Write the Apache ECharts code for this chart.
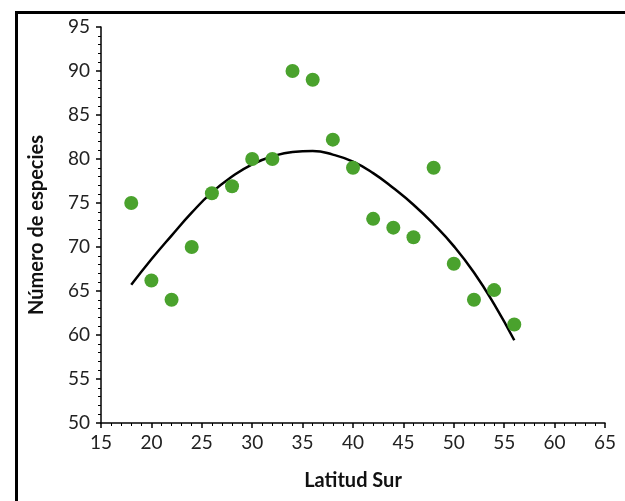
<!DOCTYPE html>
<html>
<head>
<meta charset="utf-8">
<script src="https://cdn.jsdelivr.net/npm/echarts@6/dist/echarts.min.js"></script>
<style>html,body{margin:0;padding:0;background:#fff;}#c{width:625px;height:501px;}</style>
</head>
<body>
<div id="c"></div>
<script>
// Scatter points (latitude, species)
var latitudes = [18, 20, 22, 24, 26, 28, 30, 32, 34, 36, 38, 40, 42, 44, 46, 48, 50, 52, 54, 56];
var species   = [75, 66.2, 64, 70, 76.1, 76.9, 80, 80, 90, 89, 82.2, 79, 73.2, 72.2, 71.1, 79, 68.1, 64, 65.1, 61.2];
// Trend curve
var curveX = [18, 20, 22, 24, 26, 28, 30, 32, 34, 36, 38, 40, 42, 44, 46, 48, 50, 52, 54, 56];
var curveY = [65.7, 68.6, 71.3, 73.9, 76.2, 78.0, 79.4, 80.3, 80.8, 80.9, 80.5, 79.7, 78.4, 76.7, 74.8, 72.6, 70.1, 67.1, 63.5, 59.4];

var xTitle = 'Latitud Sur';
var yTitle = 'Número de especies';

var chart = echarts.init(document.getElementById('c'), null, {renderer: 'canvas'});
var font = 'Lato, "Open Sans", sans-serif';
chart.setOption({
  animation: false,
  backgroundColor: '#fff',
  graphic: [{
    type: 'rect', left: 14, top: 10,
    shape: {x: 0, y: 0, width: 800, height: 800},
    style: {fill: 'none', stroke: '#000', lineWidth: 3}
  }],
  grid: {left: 101, right: 20, top: 27, bottom: 78},
  xAxis: {
    type: 'value', min: 15, max: 65, interval: 5,
    name: xTitle, nameLocation: 'middle', nameGap: 48,
    nameTextStyle: {fontFamily: font, fontSize: 20, fontWeight: 'bold', color: '#111'},
    axisLine: {lineStyle: {color: '#000', width: 1.5}},
    axisTick: {show: true, length: 5, lineStyle: {color: '#000', width: 1.5}},
    minorTick: {show: true, splitNumber: 5, length: 3, lineStyle: {color: '#000', width: 1}},
    axisLabel: {fontFamily: font, fontSize: 19, color: '#222', margin: 10},
    splitLine: {show: false}
  },
  yAxis: {
    type: 'value', min: 50, max: 95, interval: 5,
    name: yTitle, nameLocation: 'middle', nameGap: 54, nameRotate: 90,
    nameTextStyle: {fontFamily: font, fontSize: 20, fontWeight: 'bold', color: '#111'},
    axisLine: {show: true, lineStyle: {color: '#000', width: 1.5}},
    axisTick: {show: true, length: 5, lineStyle: {color: '#000', width: 1.5}},
    minorTick: {show: true, splitNumber: 5, length: 3, lineStyle: {color: '#000', width: 1}},
    axisLabel: {fontFamily: font, fontSize: 19, color: '#222', margin: 11},
    splitLine: {show: false}
  },
  series: [{
    type: 'line',
    data: curveX.map(function (x, i) { return [x, curveY[i]]; }),
    smooth: 0.5, showSymbol: false, symbol: 'none',
    lineStyle: {color: '#000', width: 2.5},
    z: 2
  }, {
    type: 'scatter',
    data: latitudes.map(function (x, i) { return [x, species[i]]; }),
    symbol: 'circle', symbolSize: 14,
    itemStyle: {color: '#4aa22d', opacity: 1},
    z: 3
  }]
});
</script>
</body>
</html>
